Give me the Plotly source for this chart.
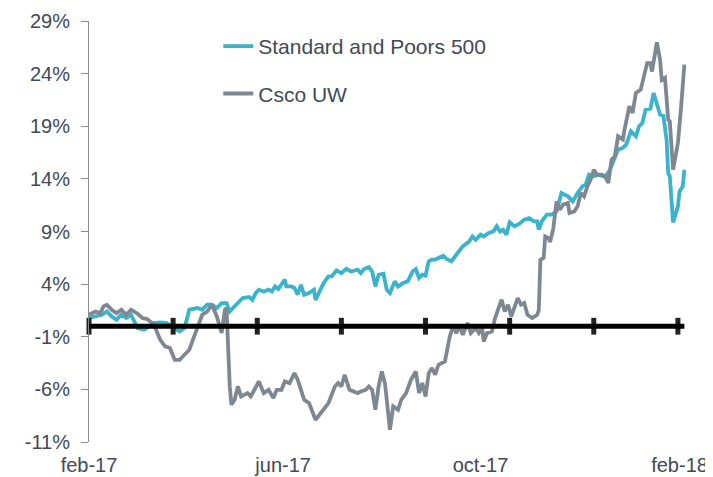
import plotly.graph_objects as go

# ---------------- data ----------------
sp_dates = [
    "2017-02-01", "2017-02-06", "2017-02-09", "2017-02-12", "2017-02-15", "2017-02-18", "2017-02-21",
    "2017-02-24", "2017-02-27", "2017-03-03", "2017-03-07", "2017-03-10", "2017-03-13", "2017-03-17",
    "2017-03-21", "2017-03-25", "2017-03-29", "2017-04-01", "2017-04-04", "2017-04-09", "2017-04-12",
    "2017-04-15", "2017-04-18", "2017-04-21", "2017-04-24", "2017-04-27", "2017-04-29", "2017-05-02",
    "2017-05-05", "2017-05-07", "2017-05-11", "2017-05-13", "2017-05-15", "2017-05-17", "2017-05-20",
    "2017-05-23", "2017-05-25", "2017-05-27", "2017-05-29", "2017-05-31", "2017-06-02", "2017-06-03",
    "2017-06-06", "2017-06-08", "2017-06-10", "2017-06-12", "2017-06-14", "2017-06-17", "2017-06-20",
    "2017-06-21", "2017-06-23", "2017-06-26", "2017-06-29", "2017-07-01", "2017-07-04", "2017-07-07",
    "2017-07-10", "2017-07-13", "2017-07-17", "2017-07-19", "2017-07-21", "2017-07-24", "2017-07-26",
    "2017-07-28", "2017-07-30", "2017-08-02", "2017-08-04", "2017-08-06", "2017-08-09", "2017-08-11",
    "2017-08-14", "2017-08-17", "2017-08-20", "2017-08-22", "2017-08-24", "2017-08-26", "2017-08-28",
    "2017-08-30", "2017-09-01", "2017-09-03", "2017-09-05", "2017-09-08", "2017-09-10", "2017-09-13",
    "2017-09-16", "2017-09-20", "2017-09-24", "2017-09-26", "2017-09-28", "2017-10-01", "2017-10-03",
    "2017-10-06", "2017-10-09", "2017-10-11", "2017-10-13", "2017-10-15", "2017-10-17", "2017-10-19",
    "2017-10-22", "2017-10-25", "2017-10-28", "2017-10-31", "2017-11-03", "2017-11-05", "2017-11-06",
    "2017-11-08", "2017-11-11", "2017-11-14", "2017-11-17", "2017-11-20", "2017-11-24", "2017-11-27",
    "2017-11-30", "2017-12-03", "2017-12-05", "2017-12-07", "2017-12-10", "2017-12-13", "2017-12-16",
    "2017-12-18", "2017-12-20", "2017-12-22", "2017-12-25", "2017-12-28", "2017-12-30", "2018-01-02",
    "2018-01-05", "2018-01-07", "2018-01-09", "2018-01-11", "2018-01-14", "2018-01-16", "2018-01-18",
    "2018-01-20", "2018-01-22", "2018-01-24", "2018-01-25", "2018-01-26", "2018-01-28", "2018-01-31",
    "2018-02-01", "2018-02-03", "2018-02-04",
]
sp_values = [
    0.78, 0.93, 1.09, 1.40, 0.93, 0.62, 1.09,
    0.78, 1.09, -0.17, -0.33, -0.02, 0.30, 0.36,
    0.30, -0.08, -0.50, -0.17, 1.57, 1.73, 1.57,
    2.04, 2.04, 1.73, 2.20, 2.20, 1.40, 1.90,
    2.30, 2.68, 2.77, 2.50, 3.15, 3.47, 3.30,
    3.47, 3.30, 3.78, 3.53, 3.94, 4.42, 3.78,
    3.78, 3.63, 2.99, 3.94, 2.99, 3.15, 3.47,
    2.50, 3.15, 4.10, 4.73, 4.73, 5.30, 5.05,
    5.46, 5.20, 5.37, 5.05, 5.43, 5.62, 5.20,
    3.78, 4.89, 4.99, 3.47, 3.15, 4.26, 3.78,
    4.10, 4.26, 5.20, 5.43, 4.58, 4.89, 4.80,
    6.16, 6.32, 6.32, 6.48, 6.70, 6.39, 6.16,
    6.79, 7.58, 8.06, 8.53, 8.22, 8.70, 8.53,
    8.86, 9.01, 9.49, 9.01, 9.17, 8.70, 9.87,
    9.49, 9.74, 10.12, 10.28, 9.96, 9.96, 9.17,
    10.00, 10.60, 10.60, 10.91, 12.66, 12.34, 11.86,
    12.66, 13.29, 13.45, 14.40, 14.24, 14.40, 14.24,
    14.40, 14.87, 15.66, 16.78, 16.94, 17.25, 18.52,
    18.05, 19.00, 19.31, 20.58, 20.67, 22.16, 21.05,
    20.10, 20.00, 17.73, 14.56, 14.24, 9.87, 11.39,
    12.81, 13.29, 14.87,
]

csco_dates = [
    "2017-02-01", "2017-02-05", "2017-02-08", "2017-02-10", "2017-02-12", "2017-02-15", "2017-02-18",
    "2017-02-21", "2017-02-24", "2017-02-27", "2017-03-03", "2017-03-06", "2017-03-09", "2017-03-12",
    "2017-03-14", "2017-03-17", "2017-03-20", "2017-03-23", "2017-03-26", "2017-03-29", "2017-04-01",
    "2017-04-04", "2017-04-07", "2017-04-10", "2017-04-12", "2017-04-15", "2017-04-18", "2017-04-21",
    "2017-04-24", "2017-04-26", "2017-04-27", "2017-04-29", "2017-04-30", "2017-05-02", "2017-05-04",
    "2017-05-06", "2017-05-10", "2017-05-12", "2017-05-14", "2017-05-17", "2017-05-20", "2017-05-23",
    "2017-05-26", "2017-05-28", "2017-05-31", "2017-06-02", "2017-06-05", "2017-06-08", "2017-06-10",
    "2017-06-14", "2017-06-17", "2017-06-21", "2017-06-25", "2017-06-29", "2017-07-03", "2017-07-05",
    "2017-07-07", "2017-07-09", "2017-07-12", "2017-07-15", "2017-07-17", "2017-07-19", "2017-07-22",
    "2017-07-24", "2017-07-26", "2017-07-28", "2017-07-30", "2017-08-01", "2017-08-03", "2017-08-06",
    "2017-08-08", "2017-08-11", "2017-08-13", "2017-08-16", "2017-08-19", "2017-08-22", "2017-08-24",
    "2017-08-26", "2017-08-28", "2017-08-30", "2017-09-01", "2017-09-03", "2017-09-05", "2017-09-09",
    "2017-09-12", "2017-09-14", "2017-09-16", "2017-09-18", "2017-09-20", "2017-09-23", "2017-09-25",
    "2017-09-28", "2017-09-30", "2017-10-02", "2017-10-03", "2017-10-05", "2017-10-08", "2017-10-10",
    "2017-10-12", "2017-10-14", "2017-10-16", "2017-10-18", "2017-10-20", "2017-10-24", "2017-10-26",
    "2017-10-28", "2017-10-30", "2017-11-02", "2017-11-05", "2017-11-06", "2017-11-07", "2017-11-09",
    "2017-11-10", "2017-11-12", "2017-11-13", "2017-11-15", "2017-11-17", "2017-11-19", "2017-11-21",
    "2017-11-24", "2017-11-25", "2017-11-28", "2017-11-30", "2017-12-02", "2017-12-04", "2017-12-06",
    "2017-12-08", "2017-12-10", "2017-12-12", "2017-12-15", "2017-12-17", "2017-12-19", "2017-12-21",
    "2017-12-23", "2017-12-25", "2017-12-28", "2017-12-29", "2018-01-01", "2018-01-03", "2018-01-05",
    "2018-01-08", "2018-01-10", "2018-01-12", "2018-01-14", "2018-01-15", "2018-01-18", "2018-01-20",
    "2018-01-21", "2018-01-23", "2018-01-25", "2018-01-26", "2018-01-28", "2018-01-31", "2018-02-02",
    "2018-02-04",
]
csco_values = [
    1.09, 1.40, 1.25, 1.88, 2.04, 1.57, 1.25,
    1.57, 1.09, 1.57, 1.19, 0.78, 0.68, 0.30,
    -0.17, -1.29, -1.92, -2.07, -3.19, -3.19, -2.71,
    -2.24, -0.97, 0.30, 1.09, 1.40, 2.04, 0.93,
    -0.65, 1.57, 1.73, -5.72, -7.46, -6.99, -5.72,
    -6.67, -6.35, -6.67, -6.04, -5.25, -6.35, -6.04,
    -6.83, -6.04, -6.04, -5.25, -5.40, -4.45, -5.09,
    -6.99, -7.30, -8.89, -8.10, -7.30, -5.72, -5.40,
    -5.72, -4.61, -6.04, -6.20, -6.35, -6.20, -6.04,
    -5.72, -6.04, -7.94, -5.72, -4.30, -5.50, -9.84,
    -7.62, -7.94, -6.99, -6.35, -5.09, -4.30, -6.35,
    -5.40, -6.67, -4.45, -3.98, -4.61, -3.66, -3.35,
    -0.97, 0.00, -0.65, 0.00, -0.81, 0.30, -0.65,
    -0.17, -0.65, -0.17, -1.45, -0.65, -0.50, 0.78,
    1.57, 2.52, 1.40, 2.04, 0.93, 2.68, 2.04,
    2.20, 1.09, 0.78, 1.09, 1.50, 6.30, 6.50,
    8.53, 8.37, 8.00, 9.30, 11.86, 11.07, 11.55,
    11.70, 10.76, 10.91, 11.39, 12.66, 12.34, 13.29,
    13.92, 14.87, 14.40, 14.40, 14.24, 13.61, 15.83,
    16.14, 18.04, 17.73, 18.68, 20.90, 20.26, 22.16,
    22.48, 23.74, 25.00, 25.00, 24.20, 26.98, 25.30,
    23.40, 23.60, 19.63, 19.47, 14.87, 17.41, 20.90,
    24.86,
]

series_names = ["Standard and Poors 500", "Csco UW"]
series_colors = ["#3AB3CC", "#7E8893"]

x_tick_dates = ["2017-02-01", "2017-06-01", "2017-10-01", "2018-02-01"]
x_tick_labels = ["feb-17", "jun-17", "oct-17", "feb-18"]
y_tick_values = [-11, -6, -1, 4, 9, 14, 19, 24, 29]
y_tick_labels = ["-11%", "-6%", "-1%", "4%", "9%", "14%", "19%", "24%", "29%"]

# tick marks drawn on the zero line (every 52 days in the source chart)
zero_tick_dates = ["2017-02-01", "2017-03-25", "2017-05-16", "2017-07-07",
                   "2017-08-28", "2017-10-19", "2017-12-10", "2018-01-31"]
zero_tick_values = [0] * len(zero_tick_dates)

x_range = ["2017-02-01", "2018-02-05"]
y_range = [-11, 29]

FONT = "Liberation Sans, Arial, sans-serif"
TEXT_COLOR = "#404A56"

fig = go.Figure()

fig.add_trace(go.Scatter(
    x=sp_dates, y=sp_values, mode="lines", name=series_names[0],
    line=dict(color=series_colors[0], width=3.8), legendgroup="a",
))
fig.add_trace(go.Scatter(
    x=csco_dates, y=csco_values, mode="lines", name=series_names[1],
    line=dict(color=series_colors[1], width=3.8), legendgroup="b",
))
fig.add_trace(go.Scatter(
    x=zero_tick_dates, y=zero_tick_values, mode="markers", showlegend=False,
    hoverinfo="skip", cliponaxis=False,
    marker=dict(symbol="line-ns", size=12, line=dict(color="#222222", width=5)),
))

# black horizontal line at 0 %
fig.add_shape(type="line", xref="x", yref="y", x0=x_range[0], x1="2018-02-04",
              y0=0, y1=0, line=dict(color="black", width=5), layer="above")

# the page body adds an 8 px offset; the figure is sized to fit the 713x477 window
fig.update_layout(
    width=705, height=469,
    margin=dict(l=81, r=27, t=13, b=35, autoexpand=False),
    paper_bgcolor="white", plot_bgcolor="white",
    font=dict(family=FONT, size=20, color=TEXT_COLOR),
    showlegend=True,
    legend=dict(
        x=0.2165, y=0.988, xanchor="left", yanchor="top",
        bgcolor="rgba(0,0,0,0)", font=dict(size=21, color=TEXT_COLOR),
        traceorder="grouped", tracegroupgap=17,
    ),
    xaxis=dict(
        type="date", range=x_range, showgrid=False, zeroline=False, showline=False,
        tickmode="array", tickvals=x_tick_dates, ticktext=x_tick_labels,
        ticks="", tickfont=dict(size=20, color=TEXT_COLOR), automargin=False,
        ticklabelstandoff=9,
    ),
    yaxis=dict(
        range=y_range, showgrid=False, zeroline=False,
        showline=True, linecolor="#8C8C8C", linewidth=1,
        tickmode="array", tickvals=y_tick_values, ticktext=y_tick_labels,
        ticks="outside", ticklen=7, tickcolor="#8C8C8C", tickwidth=1,
        tickfont=dict(size=20, color=TEXT_COLOR), automargin=False,
        ticklabelstandoff=7,
    ),
)

fig.write_html("out.html")
